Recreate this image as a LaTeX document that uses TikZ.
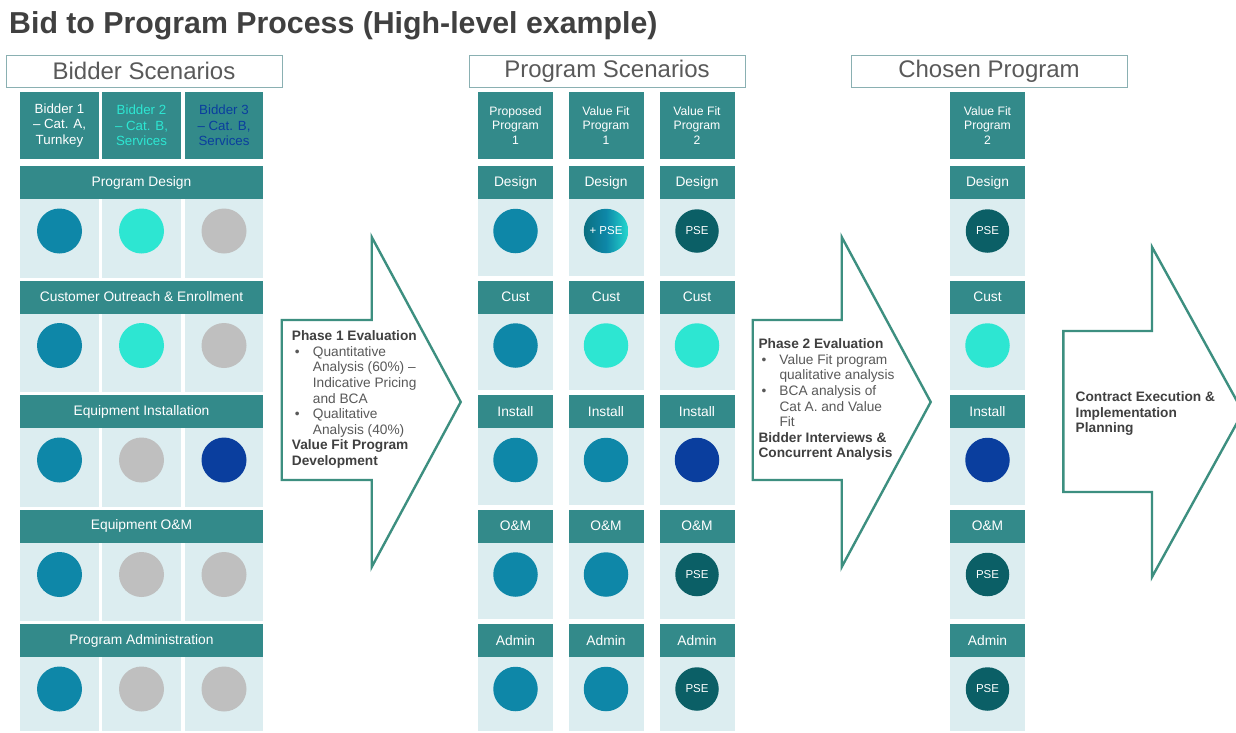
\documentclass[tikz,border=0pt]{standalone}
\usepackage{fontspec}
\setmainfont{Liberation Sans}
\definecolor{band}{HTML}{338A8A}
\definecolor{cellbg}{HTML}{DCEDF0}
\definecolor{cblue}{HTML}{0E87A8}
\definecolor{caqua}{HTML}{2DE6D2}
\definecolor{cgrey}{HTML}{BFBFBF}
\definecolor{cdblue}{HTML}{0A3E9E}
\definecolor{cpse}{HTML}{0B5F66}
\definecolor{gradl}{HTML}{0B6F80}
\definecolor{gradr}{HTML}{25D8CF}
\definecolor{arrowline}{HTML}{3D8F80}
\definecolor{txtdark}{HTML}{404040}
\definecolor{txtgrey}{HTML}{595959}
\definecolor{hdrline}{HTML}{8AB0B2}
\newcommand\mybul{\makebox[21pt][l]{\hspace{3pt}\textbullet}}
\newcommand\myind{\hspace*{21pt}}
\newcommand\mybf[1]{\textcolor{txtdark}{\bfseries #1}}
\begin{document}
\begin{tikzpicture}[x=1pt,y=-1pt,
  bandbox/.style={fill=band, text=white, inner sep=0pt, minimum height=33pt, font=\fontsize{13.8}{15}\selectfont},
  hdrcell/.style={fill=band, inner sep=0pt, minimum height=67pt, align=center, font=\fontsize{13.3}{15.5}\selectfont},
  mhdrcell/.style={hdrcell, minimum width=75pt, text=white, font=\fontsize{12.2}{14.5}\selectfont},
  dot/.style={circle, inner sep=0pt, minimum size=45pt},
  mdot/.style={dot, minimum size=44.5pt},
  psedot/.style={dot, minimum size=43.5pt, fill=cpse, text=white, font=\fontsize{11.5}{13}\selectfont},
  titlebox/.style={draw=hdrline, line width=1pt, minimum width=276pt, minimum height=32pt, inner sep=0pt, text=txtgrey, font=\fontsize{24}{26}\selectfont},
  phase/.style={draw=arrowline, line width=2.4pt, line join=miter, fill=white},
  phasetext/.style={anchor=north west, inner sep=0pt, align=left, text=txtgrey, font=\fontsize{13.7}{15.6}\selectfont}
]
\useasboundingbox (0,0) rectangle (1236,732);
\clip (0,0) rectangle (1236,732);

% title
\node[anchor=base west, inner sep=0pt, font=\fontsize{30.3}{32}\selectfont\bfseries, text=txtdark] (title) at (9,33) {Bid to Program Process (High-level example)};

% header boxes
\node[titlebox] (hb1) at (144,71) {Bidder Scenarios};
\node[titlebox] (hb2) at (607,71) {Program Scenarios};
\node[titlebox] (hb3) at (989,71) {Chosen Program};

% left header cells
\node[hdrcell, minimum width=79pt, text=white] (lh1) at (59.5,125.5) {Bidder 1\\– Cat. A,\\Turnkey};
\node[hdrcell, minimum width=79pt, text=caqua] (lh2) at (141.5,125.5) {Bidder 2\\– Cat. B,\\Services};
\node[hdrcell, minimum width=78pt, text=cdblue] (lh3) at (224,125.5) {Bidder 3\\– Cat. B,\\Services};

% left grid
\foreach \k/\lab in {0/Program Design,1/Customer Outreach \& Enrollment,2/Equipment Installation,3/Equipment O\&M,4/Program Administration}{
  \pgfmathsetmacro\yt{166+114.5*\k}
  \pgfmathsetmacro\yb{\k<4 ? \yt+111.5 : 731}
  \foreach \xa/\xb in {20/99,102/181,185/263}{
    \fill[cellbg] (\xa,\yt+33) rectangle (\xb,\yb);
  }
  \node[bandbox, minimum width=243pt] (lb\k) at (141.5,\yt+16.5) {\lab};
}

% left circles
\node[dot, fill=cblue] (l0a) at (59.5,231) {};
\node[dot, fill=caqua] (l0b) at (141.5,231) {};
\node[dot, fill=cgrey] (l0c) at (224,231) {};
\node[dot, fill=cblue] (l1a) at (59.5,345.5) {};
\node[dot, fill=caqua] (l1b) at (141.5,345.5) {};
\node[dot, fill=cgrey] (l1c) at (224,345.5) {};
\node[dot, fill=cblue] (l2a) at (59.5,460) {};
\node[dot, fill=cgrey] (l2b) at (141.5,460) {};
\node[dot, fill=cdblue] (l2c) at (224,460) {};
\node[dot, fill=cblue] (l3a) at (59.5,574.5) {};
\node[dot, fill=cgrey] (l3b) at (141.5,574.5) {};
\node[dot, fill=cgrey] (l3c) at (224,574.5) {};
\node[dot, fill=cblue] (l4a) at (59.5,689) {};
\node[dot, fill=cgrey] (l4b) at (141.5,689) {};
\node[dot, fill=cgrey] (l4c) at (224,689) {};

% middle and chosen header cells
\node[mhdrcell] (mh1) at (515.5,125.5) {Proposed\\Program\\1};
\node[mhdrcell] (mh2) at (606,125.5) {Value Fit\\Program\\1};
\node[mhdrcell] (mh3) at (697,125.5) {Value Fit\\Program\\2};
\node[mhdrcell] (chh) at (987.5,125.5) {Value Fit\\Program\\2};

% middle and chosen columns
\foreach \c/\xc in {ma/515.5, mb/606, mc/697, ch/987.5}{
  \foreach \k/\lab in {0/Design,1/Cust,2/Install,3/O\&M,4/Admin}{
    \pgfmathsetmacro\yt{166+114.5*\k}
    \pgfmathsetmacro\yb{\k<4 ? \yt+109.5 : 731}
    \fill[cellbg] (\xc-37.5,\yt+33) rectangle (\xc+37.5,\yb);
    \node[bandbox, minimum width=75pt] (\c b\k) at (\xc,\yt+16.5) {\lab};
  }
}

% column 1
\node[mdot, fill=cblue] (ma0) at (515.5,231) {};
\node[mdot, fill=cblue] (ma1) at (515.5,345.5) {};
\node[mdot, fill=cblue] (ma2) at (515.5,460) {};
\node[mdot, fill=cblue] (ma3) at (515.5,574.5) {};
\node[mdot, fill=cblue] (ma4) at (515.5,689) {};
% column 2
\node[mdot, left color=gradl, right color=gradr, middle color=cblue, text=white, font=\fontsize{11.5}{13}\selectfont] (mb0) at (606,231) {+ PSE};
\node[mdot, fill=caqua] (mb1) at (606,345.5) {};
\node[mdot, fill=cblue] (mb2) at (606,460) {};
\node[mdot, fill=cblue] (mb3) at (606,574.5) {};
\node[mdot, fill=cblue] (mb4) at (606,689) {};
% column 3
\node[psedot] (mc0) at (697,231) {PSE};
\node[mdot, fill=caqua] (mc1) at (697,345.5) {};
\node[mdot, fill=cdblue] (mc2) at (697,460) {};
\node[psedot] (mc3) at (697,574.5) {PSE};
\node[psedot] (mc4) at (697,689) {PSE};
% chosen
\node[psedot] (ch0) at (987.5,231) {PSE};
\node[mdot, fill=caqua] (ch1) at (987.5,345.5) {};
\node[mdot, fill=cdblue] (ch2) at (987.5,460) {};
\node[psedot] (ch3) at (987.5,574.5) {PSE};
\node[psedot] (ch4) at (987.5,689) {PSE};

% phase arrows
\draw[phase] (281.7,320) -- (371.7,320) -- (371.7,237) -- (460.7,402) -- (371.7,567) -- (371.7,480) -- (281.7,480) -- cycle;
\draw[phase] (752.7,320) -- (841.7,320) -- (841.7,237) -- (930.7,402) -- (841.7,567) -- (841.7,480) -- (752.7,480) -- cycle;
\draw[phase] (1063.3,331) -- (1152,331) -- (1152,247) -- (1243,412) -- (1152,577) -- (1152,492) -- (1063.3,492) -- cycle;

\node[phasetext] (p1) at (291.7,330.5) {\mybf{Phase 1 Evaluation}\\
\mybul Quantitative\\
\myind Analysis (60\%) –\\
\myind Indicative Pricing\\
\myind and BCA\\
\mybul Qualitative\\
\myind Analysis (40\%)\\
\mybf{Value Fit Program}\\
\mybf{Development}};

\node[phasetext] (p2) at (758.3,338.5) {\mybf{Phase 2 Evaluation}\\
\mybul Value Fit program\\
\myind qualitative analysis\\
\mybul BCA analysis of\\
\myind Cat A. and Value\\
\myind Fit\\
\mybf{Bidder Interviews \&}\\
\mybf{Concurrent Analysis}};

\node[phasetext] (p3) at (1075.5,391.5) {\mybf{Contract Execution \&}\\
\mybf{Implementation}\\
\mybf{Planning}};
\end{tikzpicture}
\end{document}
